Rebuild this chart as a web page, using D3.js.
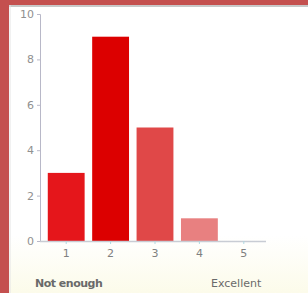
<!DOCTYPE html>
<html>
  <head>
    <meta charset="utf-8">
    <style>
      html, body { margin: 0; padding: 0; background: #c4504f; }
      svg { display: block; }
    </style>
  </head>
  <body>
    <div class='chart-container'></div>
    <script src="https://cdn.jsdelivr.net/npm/d3@7"></script>
    <script>
// rating survey values
var ratings = [1, 2, 3, 4, 5];
var counts = [3, 9, 5, 1, 0];
var barColors = ['#e5161b', '#dc0000', '#e04848', '#e88080', '#f2b0b0'];
var yTicks = [0, 2, 4, 6, 8, 10];
var endLabels = ['Not enough', 'Excellent'];

var width = 308, height = 293;

var svg = d3.select('.chart-container').append('svg')
    .attr('width', width)
    .attr('height', height);

// white panel inside the red frame, faint yellow toward the bottom
var grad = svg.append('defs').append('linearGradient')
    .attr('id', 'panelFill')
    .attr('x1', 0).attr('y1', 0).attr('x2', 0).attr('y2', 1);
grad.append('stop').attr('offset', '0.8').attr('stop-color', '#ffffff');
grad.append('stop').attr('offset', '1').attr('stop-color', '#fcfbea');

svg.append('rect')
    .attr('x', 9).attr('y', 5)
    .attr('width', width - 9).attr('height', height - 5)
    .style('fill', 'url(#panelFill)');
svg.append('line')
    .attr('x1', 9).attr('x2', width)
    .attr('y1', 6).attr('y2', 6)
    .style('stroke', '#c8c8c8')
    .style('stroke-width', 2);
svg.append('line')
    .attr('x1', 10).attr('x2', 10)
    .attr('y1', 5).attr('y2', height)
    .style('stroke', '#e4e4e4');

var x = d3.scaleBand()
    .domain(ratings)
    .range([44, 266])
    .paddingInner(0.17)
    .paddingOuter(0.085);

var y = d3.scaleLinear()
    .domain([0, 10])
    .range([241, 14]);

var font = 'DejaVu Sans, sans-serif';

// y axis
var yAxis = svg.append('g')
    .attr('transform', 'translate(40,0)')
    .call(d3.axisLeft(y).tickValues(yTicks).tickSize(3).tickPadding(3));
yAxis.select('.domain').style('stroke', '#b8b8c8');
yAxis.selectAll('.tick line').style('stroke', '#b8b8c8');
yAxis.selectAll('text')
    .style('font-family', font)
    .style('font-size', '11px')
    .style('fill', '#909090');

// bars
svg.append('g').selectAll('rect')
    .data(ratings)
  .enter().append('rect')
    .attr('x', d => x(d))
    .attr('width', x.bandwidth())
    .attr('y', (d, i) => y(counts[i]))
    .attr('height', (d, i) => y(0) - y(counts[i]))
    .style('fill', (d, i) => barColors[i]);

// x axis
var xAxis = svg.append('g')
    .attr('transform', 'translate(0,' + y(0) + ')')
    .call(d3.axisBottom(x).tickSize(3).tickPadding(5).tickSizeOuter(0));
xAxis.select('.domain')
    .attr('d', 'M40,0.5H266')
    .style('stroke', '#c8ccd4')
    .style('stroke-width', 1.5);
xAxis.selectAll('.tick line').style('stroke', '#b0d8e0');
xAxis.selectAll('text')
    .style('font-family', font)
    .style('font-size', '11px')
    .style('fill', '#808080');

// end labels
svg.append('text')
    .attr('x', 35).attr('y', 287)
    .text(endLabels[0])
    .style('font-family', font)
    .style('font-size', '11px')
    .style('font-weight', 'bold')
    .style('letter-spacing', '-0.5px')
    .style('fill', '#6a6a6a');
svg.append('text')
    .attr('x', 211).attr('y', 287)
    .text(endLabels[1])
    .style('font-family', font)
    .style('font-size', '11px')
    .style('fill', '#6a6a6a');
    </script>
  </body>
</html>
